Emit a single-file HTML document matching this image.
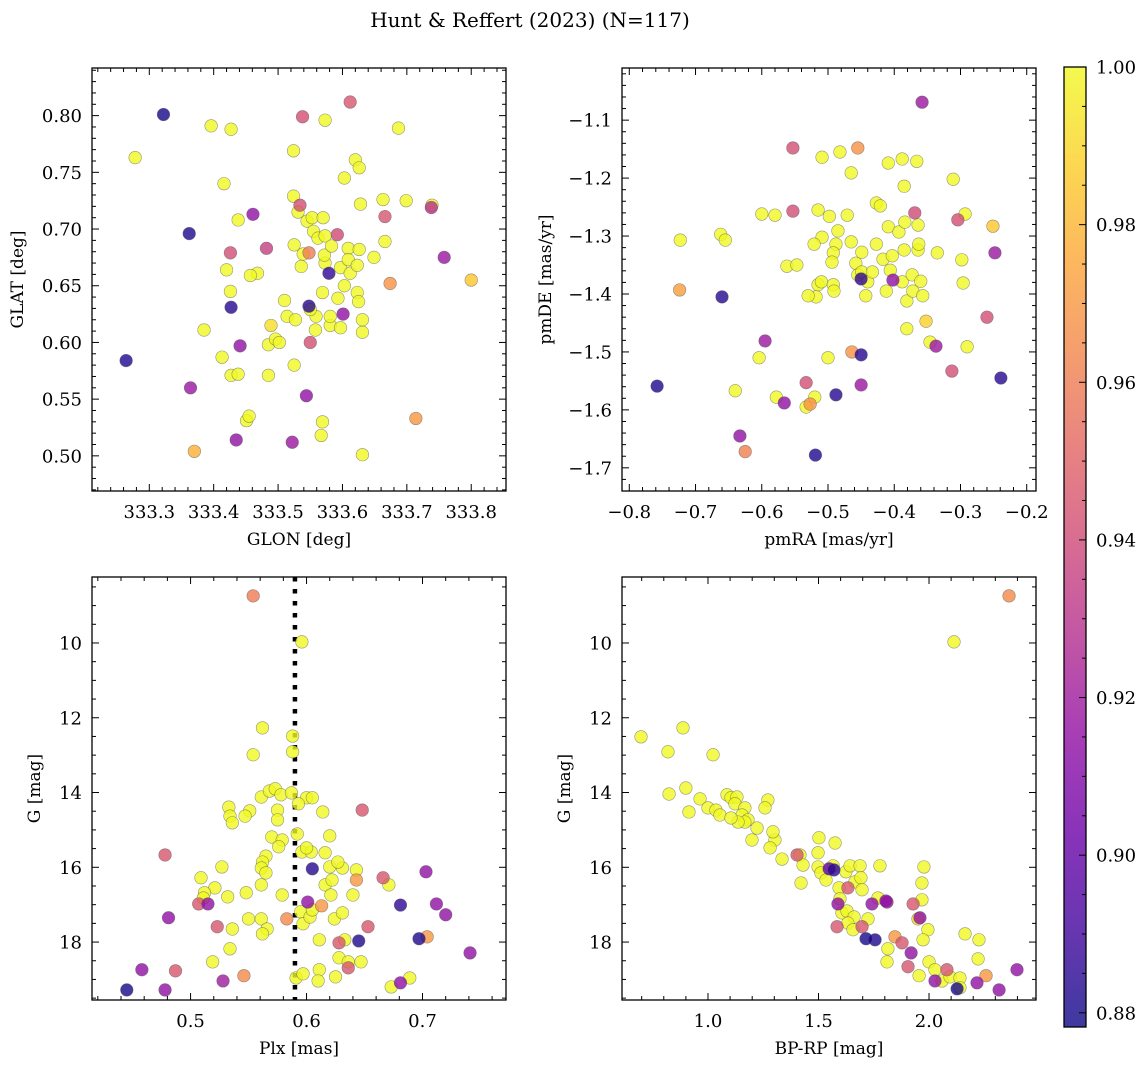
<!DOCTYPE html>
<html><head><meta charset="utf-8"><style>
html,body{margin:0;padding:0;background:#fff;}
svg{display:block;font-family:"DejaVu Serif","Liberation Serif",serif;}
</style></head><body>
<svg id="fig" width="1148" height="1067" viewBox="0 0 1148 1067" xmlns="http://www.w3.org/2000/svg">
<defs>
<linearGradient id="cbgrad" x1="0" y1="1" x2="0" y2="0">
<stop offset="0" stop-color="#0d0887"/><stop offset="0.1" stop-color="#41049d"/><stop offset="0.2" stop-color="#6a00a8"/><stop offset="0.3" stop-color="#8f0da4"/><stop offset="0.4" stop-color="#b12a90"/><stop offset="0.5" stop-color="#cc4778"/><stop offset="0.6" stop-color="#e16462"/><stop offset="0.7" stop-color="#f2844b"/><stop offset="0.8" stop-color="#fca636"/><stop offset="0.9" stop-color="#fcce25"/><stop offset="1" stop-color="#f0f921"/>
</linearGradient>
</defs>
<text x="530" y="27" font-size="20" text-anchor="middle">Hunt &amp; Reffert (2023) (N=117)</text>
</svg>
<script>
// ---------- Panel 1 data: GLON / GLAT ----------
const p1Glon=[333.322,333.362,333.264,333.427,333.548,333.579,333.364,333.441,333.435,333.461,333.544,333.522,333.601,333.758,333.738,333.482,333.426,333.534,333.538,333.612,333.666,333.592,333.550,333.548,333.674,333.714,333.370,333.800,333.489,
333.278,333.396,333.427,333.416,333.385,333.438,333.426,333.420,333.468,333.457,333.427,333.438,333.451,333.455,333.413,333.485,333.485,333.496,333.502,333.524,333.524,333.531,333.539,333.525,333.545,333.553,333.555,333.562,333.573,333.573,333.570,333.573,333.569,333.514,333.527,333.525,333.559,333.558,333.569,333.581,333.581,333.597,333.593,333.597,333.603,333.603,333.609,333.609,333.612,333.620,333.623,333.623,333.626,333.628,333.626,333.631,333.631,333.625,333.631,333.649,333.663,333.666,333.687,333.699,333.739,333.550,333.536,333.510,333.572,333.583,333.567];
const p1Glat=[0.801,0.696,0.584,0.631,0.632,0.661,0.560,0.597,0.514,0.713,0.553,0.512,0.625,0.675,0.719,0.683,0.679,0.721,0.799,0.812,0.711,0.695,0.600,0.679,0.652,0.533,0.504,0.655,0.615,
0.763,0.791,0.788,0.740,0.611,0.708,0.645,0.664,0.661,0.659,0.571,0.572,0.531,0.535,0.587,0.598,0.571,0.603,0.600,0.769,0.729,0.715,0.678,0.686,0.707,0.710,0.698,0.692,0.670,0.694,0.710,0.796,0.644,0.623,0.620,0.580,0.623,0.611,0.530,0.615,0.623,0.666,0.639,0.613,0.745,0.650,0.683,0.673,0.661,0.761,0.644,0.668,0.754,0.722,0.682,0.609,0.620,0.636,0.501,0.675,0.726,0.689,0.789,0.725,0.721,0.629,0.667,0.637,0.677,0.685,0.518];
const p1Prob=[0.880,0.882,0.882,0.884,0.884,0.886,0.918,0.915,0.915,0.915,0.915,0.918,0.915,0.918,0.928,0.935,0.942,0.942,0.942,0.945,0.945,0.940,0.942,0.960,0.968,0.970,0.978,0.985,0.992];
// ---------- Panel 2 data: pmRA / pmDE ----------
const p2Pmra=[-0.358,-0.758,-0.660,-0.633,-0.566,-0.595,-0.553,-0.553,-0.533,-0.519,-0.488,-0.450,-0.450,-0.450,-0.402,-0.369,-0.337,-0.313,-0.304,-0.260,-0.248,-0.239,-0.724,-0.625,-0.527,-0.464,-0.455,-0.251,-0.352,
-0.723,-0.662,-0.655,-0.640,-0.604,-0.580,-0.562,-0.547,-0.533,-0.520,-0.509,-0.515,-0.509,-0.521,-0.498,-0.488,-0.492,-0.494,-0.485,-0.482,-0.471,-0.515,-0.510,-0.518,-0.492,-0.491,-0.465,-0.465,-0.458,-0.455,-0.449,-0.449,-0.440,-0.443,-0.433,-0.427,-0.427,-0.421,-0.417,-0.412,-0.409,-0.409,-0.406,-0.403,-0.393,-0.388,-0.385,-0.385,-0.388,-0.384,-0.381,-0.381,-0.373,-0.372,-0.366,-0.364,-0.364,-0.363,-0.360,-0.357,-0.346,-0.335,-0.311,-0.298,-0.296,-0.293,-0.290,-0.600,-0.578,-0.530,-0.500];
const p2Pmde=[-1.069,-1.559,-1.405,-1.645,-1.588,-1.481,-1.257,-1.148,-1.553,-1.678,-1.574,-1.557,-1.505,-1.374,-1.376,-1.260,-1.490,-1.533,-1.272,-1.440,-1.329,-1.545,-1.393,-1.672,-1.590,-1.500,-1.148,-1.283,-1.447,
-1.307,-1.297,-1.307,-1.567,-1.510,-1.264,-1.352,-1.350,-1.595,-1.578,-1.164,-1.255,-1.302,-1.314,-1.266,-1.314,-1.329,-1.345,-1.291,-1.155,-1.264,-1.384,-1.379,-1.405,-1.384,-1.395,-1.191,-1.310,-1.347,-1.367,-1.328,-1.362,-1.379,-1.403,-1.362,-1.314,-1.243,-1.248,-1.340,-1.395,-1.174,-1.284,-1.359,-1.334,-1.293,-1.379,-1.324,-1.214,-1.167,-1.276,-1.412,-1.460,-1.367,-1.395,-1.171,-1.281,-1.324,-1.314,-1.378,-1.403,-1.483,-1.329,-1.202,-1.341,-1.381,-1.262,-1.491,-1.262,-1.578,-1.403,-1.510];
const p2Prob=[0.918,0.882,0.884,0.915,0.915,0.918,0.942,0.942,0.942,0.882,0.884,0.918,0.884,0.886,0.915,0.940,0.918,0.942,0.942,0.942,0.918,0.884,0.972,0.962,0.968,0.968,0.968,0.985,0.988];
// ---------- Panel 3 data: Plx / G ----------
const p3Plx=[0.445,0.458,0.478,0.481,0.487,0.507,0.515,0.523,0.528,0.546,0.583,0.613,0.601,0.628,0.636,0.645,0.653,0.681,0.681,0.697,0.704,0.712,0.720,0.741,0.554,0.478,0.648,0.605,0.666,0.703,0.643,
0.519,0.534,0.536,0.550,0.561,0.566,0.562,0.595,0.597,0.603,0.605,0.591,0.597,0.611,0.610,0.611,0.625,0.624,0.631,0.633,0.628,0.636,0.647,0.673,0.689,
0.596,0.562,0.588,0.588,0.554,0.561,0.568,0.573,0.578,0.587,0.600,0.605,0.593,0.551,0.533,0.534,0.536,0.547,0.575,0.575,0.614,0.570,0.579,0.576,0.592,0.596,0.604,0.620,0.616,0.600,0.565,0.562,0.561,0.527,0.509,0.521,0.512,0.511,0.532,0.548,0.579,0.561,0.565,0.620,0.616,0.621,0.622,0.640,0.643,0.631,0.627,0.671];
const p3G=[19.28,18.74,19.28,17.35,18.77,16.98,16.98,17.59,19.04,18.90,17.38,17.03,16.93,18.02,18.69,17.97,17.59,19.09,17.01,17.91,17.86,16.98,17.27,18.29,8.74,15.67,14.47,16.04,16.28,16.12,16.34,
18.53,18.18,17.65,17.38,17.38,17.65,17.78,17.19,17.51,17.33,17.14,18.96,18.85,18.74,19.04,17.94,18.93,17.38,17.22,17.94,18.42,18.53,18.53,19.20,18.96,
9.97,12.27,12.49,12.91,12.99,14.12,13.96,13.90,14.06,14.01,14.14,14.14,14.30,14.49,14.39,14.63,14.81,14.63,14.47,14.73,14.52,15.19,15.27,15.45,15.11,15.59,15.59,15.16,15.61,15.48,15.70,15.86,16.02,15.99,16.28,16.55,16.68,16.82,16.79,16.68,16.74,16.47,16.15,15.99,16.47,16.74,16.34,16.74,16.07,16.02,15.86,16.47];
const p3Prob=[0.880,0.915,0.915,0.915,0.945,0.945,0.915,0.945,0.920,0.965,0.965,0.970,0.915,0.945,0.945,0.882,0.945,0.915,0.885,0.882,0.970,0.915,0.915,0.915,0.960,0.945,0.945,0.884,0.945,0.915,0.970];
const plxRef=[0.590];
// ---------- Panel 4 data: BP-RP / G ----------
const p4Bprp=[1.588,1.742,1.810,1.928,1.584,1.697,1.959,1.950,1.715,1.756,1.846,1.878,1.919,1.905,2.081,2.027,2.127,2.217,2.258,2.317,2.398,2.362,1.403,1.548,1.570,1.633,1.805,
1.968,1.606,1.629,1.661,1.633,1.656,1.724,1.995,1.973,1.814,1.810,1.955,2.000,2.027,2.059,2.095,2.140,2.140,2.163,2.226,2.222,
2.113,0.697,0.819,0.887,1.023,0.824,0.900,0.914,0.964,1.000,1.036,1.054,1.086,1.104,1.131,1.122,1.167,1.154,1.181,1.167,1.136,1.104,1.222,1.271,1.258,1.199,1.303,1.281,1.294,1.335,1.416,1.430,1.421,1.502,1.498,1.498,1.575,1.511,1.534,1.566,1.593,1.597,1.624,1.643,1.665,1.688,1.692,1.697,1.778,1.977,1.968,1.769];
const p4G=[16.98,16.98,16.93,16.98,17.59,17.59,17.35,17.38,17.91,17.94,17.86,18.02,18.29,18.66,18.74,19.04,19.25,19.09,18.90,19.28,18.74,8.74,15.67,16.04,16.07,16.55,16.90,
16.87,17.22,17.17,17.33,17.49,17.67,17.38,17.67,17.94,18.18,18.53,18.90,18.53,18.74,19.04,18.93,18.96,19.22,17.78,17.94,18.45,
9.97,12.51,12.91,12.27,12.99,14.04,13.88,14.52,14.17,14.41,14.47,14.60,14.06,14.14,14.12,14.30,14.41,14.60,14.73,14.79,14.79,14.68,14.95,14.20,14.41,15.27,15.27,15.48,15.05,15.78,15.67,15.94,16.42,15.21,15.61,15.99,15.35,16.15,16.34,15.96,16.55,16.84,16.12,15.96,16.39,15.96,16.28,16.60,15.96,15.99,16.42,16.82];
const p4Prob=[0.915,0.915,0.920,0.945,0.945,0.945,0.915,0.990,0.880,0.882,0.970,0.945,0.915,0.945,0.945,0.915,0.880,0.915,0.970,0.915,0.915,0.965,0.945,0.900,0.885,0.945,0.915];
// ---------- Colorbar ----------
const cbMin=0.8782, cbMax=1.0;
const cbTicks=[0.88,0.90,0.92,0.94,0.96,0.98,1.00];

const NS="http://www.w3.org/2000/svg";
const svg=document.getElementById('fig');
function mk(tag,attrs,parent){const e=document.createElementNS(NS,tag);for(const k in attrs)e.setAttribute(k,attrs[k]);(parent||svg).appendChild(e);return e;}
const stops=[[13,8,135],[65,4,157],[106,0,168],[143,13,164],[177,42,144],[204,71,120],[225,100,98],[242,132,75],[252,166,54],[252,206,37],[240,249,33]];
function plasma(v){let t=(v-cbMin)/(cbMax-cbMin);t=Math.max(0,Math.min(1,t));const f=t*10;const i=Math.min(9,Math.floor(f));const r=f-i;const a=stops[i],b=stops[i+1];return `rgb(${Math.round(a[0]+(b[0]-a[0])*r)},${Math.round(a[1]+(b[1]-a[1])*r)},${Math.round(a[2]+(b[2]-a[2])*r)})`;}
function probAt(arr,i){return i<arr.length?arr[i]:1.0;}
function fmt(v,d){const s=v.toFixed(d);return s.replace('-','\u2212');}

function panel(cfg){
  const {L,T,R,B,x0,x1,y0,y1,name}=cfg;
  const g=mk('g',{});
  
  
  const sx=v=>L+(v-x0)/(x1-x0)*(R-L);
  const sy=v=>cfg.invert? T+(v-y0)/(y1-y0)*(B-T) : B-(v-y0)/(y1-y0)*(B-T);
  const clipId='clip-'+name;
  const cp=mk('clipPath',{id:clipId},g);mk('rect',{x:L,y:T,width:R-L,height:B-T},cp);
  const pts=mk('g',{'clip-path':`url(#${clipId})`},g);
  
  
  if(cfg.vline!==undefined){const ln=mk('line',{x1:sx(cfg.vline),x2:sx(cfg.vline),y1:T,y2:B,stroke:'#000','stroke-width':4.5,'stroke-dasharray':'4.5 7.5'},pts);
    
    }
  const n=cfg.xs.length;
  const order=[...Array(n).keys()].sort((a,b)=>probAt(cfg.ps,b)-probAt(cfg.ps,a));
  for(const i of order){
    const c=mk('circle',{cx:sx(cfg.xs[i]),cy:sy(cfg.ys[i]),r:6.3,fill:plasma(probAt(cfg.ps,i)),'fill-opacity':0.8,stroke:'#555','stroke-opacity':0.6,'stroke-width':0.6},pts);
    
    
  }
  const fr=mk('rect',{x:L,y:T,width:R-L,height:B-T,fill:'none',stroke:'#000','stroke-width':1.3},g);
  
  
  const eps=1e-9;
  for(let v=Math.ceil(x0/cfg.xminor-eps)*cfg.xminor; v<=x1+eps; v+=cfg.xminor){
    const X=sx(v); const isMaj=Math.abs(v/cfg.xmajor-Math.round(v/cfg.xmajor))<1e-6; const len=isMaj?7:4;
    mk('line',{x1:X,x2:X,y1:B,y2:B-len,stroke:'#000','stroke-width':1},g);
    mk('line',{x1:X,x2:X,y1:T,y2:T+len,stroke:'#000','stroke-width':1},g);
    if(isMaj){const t=mk('text',{x:X,y:B+27,'font-size':18,'text-anchor':'middle'},g);t.textContent=fmt(v,cfg.xdec);
      
      }
  }
  for(let v=Math.ceil(y0/cfg.yminor-eps)*cfg.yminor; v<=y1+eps; v+=cfg.yminor){
    const Y=sy(v); const isMaj=Math.abs(v/cfg.ymajor-Math.round(v/cfg.ymajor))<1e-6; const len=isMaj?7:4;
    mk('line',{x1:L,x2:L+len,y1:Y,y2:Y,stroke:'#000','stroke-width':1},g);
    mk('line',{x1:R,x2:R-len,y1:Y,y2:Y,stroke:'#000','stroke-width':1},g);
    if(isMaj){const t=mk('text',{x:L-10,y:Y+6.5,'font-size':18,'text-anchor':'end'},g);t.textContent=fmt(v,cfg.ydec);
      
      }
  }
  const xl=mk('text',{x:(L+R)/2,y:B+54,'font-size':17,'text-anchor':'middle'},g);xl.textContent=cfg.xlabel;
  
  
  const yx=cfg.ylx, yy=(T+B)/2;
  const yl=mk('text',{x:yx,y:yy,'font-size':17,'text-anchor':'middle',transform:`rotate(-90 ${yx} ${yy})`},g);yl.textContent=cfg.ylabel;
  
  
}
panel({name:'glon-glat-panel',L:92,T:68,R:506,B:491,x0:333.211,x1:333.854,y0:0.469,y1:0.842,xs:p1Glon,ys:p1Glat,ps:p1Prob,xmajor:0.1,xminor:0.02,ymajor:0.05,yminor:0.01,xdec:1,ydec:2,xlabel:'GLON [deg]',ylabel:'GLAT [deg]',ylx:23});
panel({name:'pm-panel',L:622,T:68,R:1036,B:491,x0:-0.811,x1:-0.186,y0:-1.740,y1:-1.010,xs:p2Pmra,ys:p2Pmde,ps:p2Prob,xmajor:0.1,xminor:0.02,ymajor:0.1,yminor:0.02,xdec:1,ydec:1,xlabel:'pmRA [mas/yr]',ylabel:'pmDE [mas/yr]',ylx:551});
panel({name:'plx-g-panel',L:92,T:577,R:506,B:1000,x0:0.415,x1:0.772,y0:8.235,y1:19.55,invert:true,xs:p3Plx,ys:p3G,ps:p3Prob,xmajor:0.1,xminor:0.02,ymajor:2,yminor:0.5,xdec:1,ydec:0,xlabel:'Plx [mas]',ylabel:'G [mag]',ylx:40,vline:plxRef[0]});
panel({name:'cmd-panel',L:622,T:577,R:1036,B:1000,x0:0.611,x1:2.484,y0:8.235,y1:19.55,invert:true,xs:p4Bprp,ys:p4G,ps:p4Prob,xmajor:0.5,xminor:0.1,ymajor:2,yminor:0.5,xdec:1,ydec:0,xlabel:'BP-RP [mag]',ylabel:'G [mag]',ylx:570});

const cb=mk('g',{});


const cbT=67,cbB=1027,cbL=1064,cbR=1086;
mk('rect',{x:cbL,y:cbT,width:cbR-cbL,height:cbB-cbT,fill:'url(#cbgrad)','fill-opacity':0.8},cb);
mk('rect',{x:cbL,y:cbT,width:cbR-cbL,height:cbB-cbT,fill:'none',stroke:'#000','stroke-width':1.3},cb);
const cy=v=>cbB-(v-cbMin)/(cbMax-cbMin)*(cbB-cbT);
for(let k=0;k<=30;k++){const v=0.88+k*0.005; if(v>cbMax+1e-9)break; const Y=cy(v); const maj=k%4===0;
  mk('line',{x1:cbR,x2:cbR-(maj?7:4),y1:Y,y2:Y,stroke:'#000','stroke-width':1},cb);}
for(const v of cbTicks){const t=mk('text',{x:cbR+10,y:cy(v)+6.5,'font-size':18},cb);t.textContent=v.toFixed(2);
  
  }
</script>
</body></html>
